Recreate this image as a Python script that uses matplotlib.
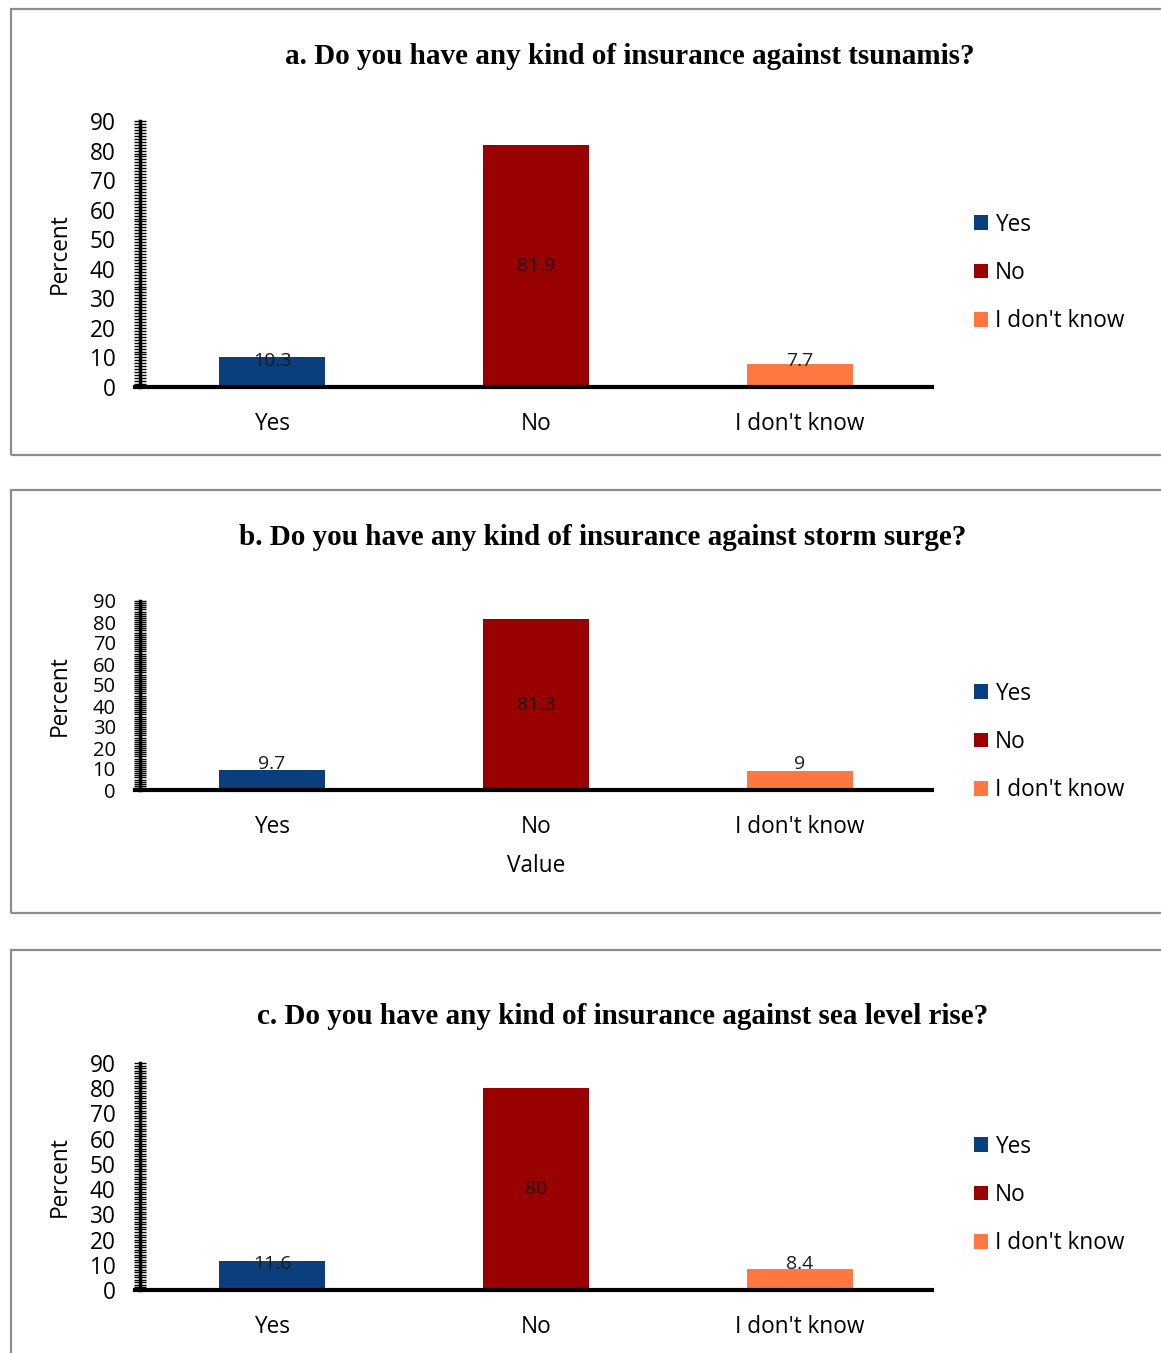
import matplotlib.pyplot as plt
from matplotlib.patches import Patch, Rectangle
from matplotlib.ticker import MultipleLocator

# data
categories = ["Yes", "No", "I don't know"]
tsunami = [10.3, 81.9, 7.7]
storm_surge = [9.7, 81.3, 9]
sea_level = [11.6, 80, 8.4]
titles = ["a. Do you have any kind of insurance against tsunamis?",
          "b. Do you have any kind of insurance against storm surge?",
          "c. Do you have any kind of insurance against sea level rise?"]
colors = ["#0A3E7D", "#990000", "#FF7842"]

W, H = 1161, 1353
fig = plt.figure(figsize=(W / 100, H / 100), dpi=100)
sans = "Open Sans"
fs = 16.3

# panel layout in pixels: (box top, box bottom, axes top, axes bottom, title y, title x, legend y, ytick size)
panels = [
    (9, 455, 121, 387, 56, 630, 273, fs),
    (490, 913, 601, 790, 537, 603, 742, 14.5),
    (950, 1360, 1063, 1290, 1016, 623, 1195, fs),
]
datasets = [tsunami, storm_surge, sea_level]

for k, (btop, bbot, atop, abot, ty, tx, ly, yfs) in enumerate(panels):
    # grey frame round each chart
    fig.patches.append(Rectangle((11 / W, 1 - bbot / H), 1.2, (bbot - btop) / H,
                                 transform=fig.transFigure, fill=False,
                                 edgecolor="#8c8c8c", lw=1.6))
    ax = fig.add_axes([140 / W, 1 - abot / H, 792 / W, (abot - atop) / H])
    vals = datasets[k]
    x = range(len(categories))
    ax.bar(x, vals, width=0.4, color=colors)
    ax.set_xlim(-0.5, 2.5)
    ax.set_ylim(0, 90)
    ax.set_xticks(list(x))
    ax.set_xticklabels(categories, fontsize=fs, family=sans)
    ax.tick_params(axis="x", length=0, pad=18)
    ax.yaxis.set_major_locator(MultipleLocator(10))
    ax.yaxis.set_minor_locator(MultipleLocator(1))
    ax.tick_params(axis="y", which="both", direction="inout", length=9, width=1.0, pad=13,
                   labelsize=yfs)
    for lab in ax.get_yticklabels():
        lab.set_family(sans)
    for s in ["top", "right"]:
        ax.spines[s].set_visible(False)
    ax.spines["left"].set_linewidth(2.5)
    ax.spines["bottom"].set_linewidth(3)
    ax.spines["bottom"].set_bounds(-0.52, 2.5)
    ax.set_ylabel("Percent", fontsize=fs, family=sans)
    ax.yaxis.set_label_coords(-0.0859, 0.5)
    if k == 1:
        ax.set_xlabel("Value", fontsize=fs, family=sans, labelpad=11)

    for i, v in enumerate(vals):
        if v > 40:
            ax.text(i, v / 2, f"{v:g}", ha="center", va="center", fontsize=14,
                    family=sans, color="#1a1a1a")
        else:
            ax.annotate(f"{v:g}", (i, 0), xytext=(0, 19), textcoords="offset points",
                        ha="center", va="center", fontsize=14, family=sans, color="#1a1a1a")

    fig.text(tx / W, 1 - ty / H, titles[k], ha="center", va="center",
             fontsize=21, fontweight="bold", family="Liberation Serif")

    handles = [Patch(facecolor=c) for c in colors]
    fig.legend(handles, categories, loc="center left",
               bbox_to_anchor=(974 / W, 1 - ly / H), frameon=False,
               prop={"family": sans, "size": fs}, handlelength=0.62, handleheight=0.62,
               handletextpad=0.3, labelspacing=1.08, borderaxespad=0, borderpad=0)

fig.savefig("out.png", dpi=100)
